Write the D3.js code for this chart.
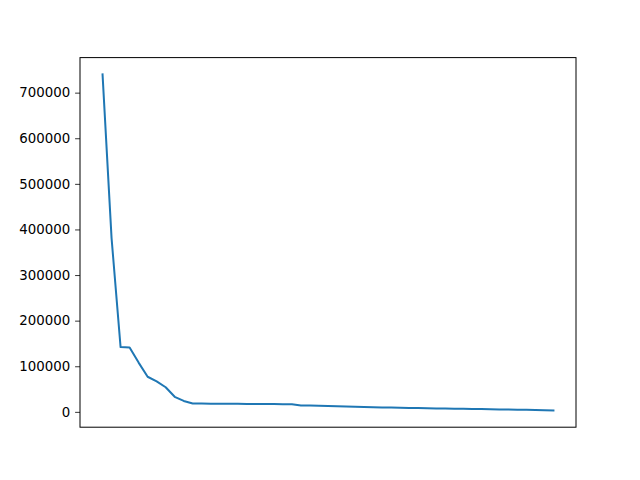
<!DOCTYPE html>
<html>
<head>
<meta charset="utf-8">
<script src="https://cdn.jsdelivr.net/npm/d3@7"></script>
<style>
  body { margin: 0; background: #fff; }
  svg { display: block; font-family: "DejaVu Sans", sans-serif; }
</style>
</head>
<body>
<svg id="chart" width="640" height="480"></svg>
<script>
// Data (51 points, descending)
const values = [
  740000, 381000, 142000, 141000, 108000, 77000, 67000, 54000, 33000, 24000,
  18500, 18300, 18000, 17900, 17800, 17600, 17400, 17300, 17200, 17000,
  16900, 16800, 14200, 13900, 13500, 13000, 12500, 12000, 11400, 10800,
  10300, 9800, 9300, 9000, 8700, 8400, 8000, 7600, 7300, 7000,
  6700, 6400, 6100, 5800, 5400, 5000, 4700, 4400, 4000, 3600, 3200
];
const yTicks = [0, 100000, 200000, 300000, 400000, 500000, 600000, 700000];

const margin = { left: 80, right: 64, top: 57.6, bottom: 52.8 };
const W = 640, H = 480;
const iw = W - margin.left - margin.right;
const ih = H - margin.top - margin.bottom;

const svg = d3.select('#chart');
const g = svg.append('g').attr('transform', `translate(${margin.left},${margin.top})`);

// matplotlib-style 5% margins
const xMax = values.length - 1;
const xPad = xMax * 0.05;
const x = d3.scaleLinear().domain([-xPad, xMax + xPad]).range([0, iw]);

const yMin = d3.min(values), yMax = d3.max(values);
const yPad = (yMax - yMin) * 0.05;
const y = d3.scaleLinear().domain([yMin - yPad, yMax + yPad]).range([ih, 0]);

// y axis
const yAxis = d3.axisLeft(y)
  .tickValues(yTicks)
  .tickFormat(d3.format('d'))
  .tickSizeInner(4.9)
  .tickSizeOuter(0)
  .tickPadding(4.9);

const ya = g.append('g').call(yAxis);
ya.select('.domain').remove();
ya.selectAll('line').attr('stroke', '#000').attr('stroke-width', 0.8);
ya.selectAll('text').attr('font-size', '13.33px').attr('fill', '#000')
  .attr('font-family', '"DejaVu Sans", sans-serif');

// line
const line = d3.line()
  .x((d, i) => x(i))
  .y(d => y(d));

g.append('path')
  .datum(values)
  .attr('fill', 'none')
  .attr('stroke', '#1f77b4')
  .attr('stroke-width', 2)
  .attr('stroke-linejoin', 'round')
  .attr('stroke-linecap', 'square')
  .attr('d', line);

// frame
g.append('rect')
  .attr('x', 0).attr('y', 0)
  .attr('width', iw).attr('height', ih)
  .attr('fill', 'none')
  .attr('stroke', '#000')
  .attr('stroke-width', 1);
</script>
</body>
</html>
